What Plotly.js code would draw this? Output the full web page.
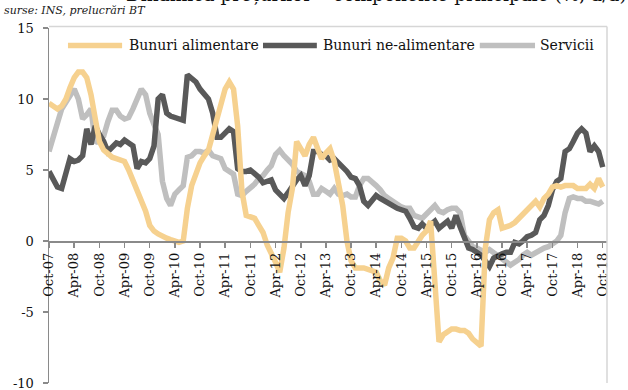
<!DOCTYPE html>
<html>
<head>
<meta charset="utf-8">
<script src="https://cdn.plot.ly/plotly-3.0.1.min.js"></script>
<style>html,body{margin:0;padding:0;background:#fff;}#chart{width:628px;height:390px;}</style>
</head>
<body>
<div id="chart"></div>
<script>
// monthly data, Oct-2007 .. Oct-2018
const startYear = 2007, startMonth = 10, nMonths = 133;
const months = [];
for (let k = 0; k < nMonths; k++) {
  const m = (startMonth - 1 + k) % 12 + 1;
  const y = startYear + Math.floor((startMonth - 1 + k) / 12);
  months.push(y + '-' + String(m).padStart(2, '0') + '-01');
}
const chartTitle = 'Dinamica prețurilor – componente principale (%, a/a)';
const sourceNote = 'surse: INS, prelucrări BT';
const seriesNames = ['Bunuri alimentare', 'Bunuri ne-alimentare', 'Servicii'];

const food = [
 9.7,9.5,9.3,9.5,10.0,10.8,11.5,11.9,11.9,11.5,10.3,8.6,
 7.0,6.4,6.1,5.9,5.8,5.7,5.6,5.0,4.3,3.5,3.0,2.1,
 1.1,0.7,0.5,0.4,0.2,0.1,0.0,-0.1,0.0,2.3,3.9,4.8,
 5.5,6.0,6.4,7.5,8.6,9.8,10.7,11.2,10.7,8.1,3.5,1.8,
 1.7,1.6,1.1,0.6,-0.3,-0.8,-1.5,-2.2,-0.5,2.0,3.7,7.0,
 6.5,6.0,6.8,7.3,6.5,5.8,6.2,6.5,5.6,4.2,2.5,0.0,
 -1.4,-1.9,-1.9,-1.9,-2.0,-2.1,-2.2,-2.8,-3.1,-1.9,-1.2,0.2,
 0.2,0.0,-0.5,-0.5,0.0,0.4,0.7,1.4,-2.9,-7.1,-6.6,-6.4,
 -6.2,-6.2,-6.3,-6.3,-6.5,-6.9,-7.2,-7.4,-0.5,1.5,2.0,2.2,
 0.9,1.0,1.1,1.3,1.6,1.9,2.2,2.5,2.8,2.4,3.0,3.3,
 3.8,3.9,3.8,3.9,3.9,3.9,3.7,3.7,3.7,4.0,3.7,4.4,3.8
];
const nonFood = [
 4.9,4.3,3.8,3.7,4.7,5.8,5.6,5.7,6.0,7.9,6.8,8.1,
 7.5,7.0,6.3,6.6,6.9,6.8,7.1,6.9,6.7,5.1,5.6,5.5,
 5.8,6.7,10.0,10.3,9.0,8.8,8.7,8.6,8.5,11.7,11.4,11.2,
 10.7,10.3,10.0,9.0,7.3,7.3,7.6,7.9,7.7,5.1,4.9,4.9,
 5.0,4.8,4.5,4.1,4.2,4.3,3.6,3.3,3.0,3.4,3.9,4.3,
 4.6,3.9,4.6,6.3,6.3,6.1,6.0,5.7,5.8,5.5,5.3,4.9,
 4.5,4.4,3.9,2.8,2.5,2.9,3.2,3.0,2.8,2.6,2.4,2.3,
 2.2,2.1,1.6,1.0,0.9,1.2,0.9,1.2,1.4,0.9,1.1,1.4,
 0.9,1.8,1.0,0.3,-0.5,-0.6,-0.8,-1.0,-1.4,-1.8,-1.2,-1.0,
 -0.9,-0.8,-0.8,-0.1,-0.2,0.0,0.3,0.4,0.6,1.5,1.8,2.5,
 3.6,4.2,4.4,6.3,6.5,7.0,7.6,7.9,7.6,6.3,6.7,6.3,5.2
];
const services = [
 6.3,7.2,8.3,9.3,9.8,10.3,10.7,10.0,8.6,8.9,9.3,6.9,
 7.2,7.4,8.4,9.2,9.2,8.8,8.6,8.7,9.3,10.0,10.7,10.3,
 9.0,8.2,7.5,4.2,3.0,2.5,3.3,3.6,3.9,5.9,6.0,6.3,
 6.3,6.2,6.4,6.0,5.9,5.8,5.1,4.9,4.7,3.3,3.2,3.5,
 3.7,4.0,4.4,4.6,5.0,5.3,6.1,6.4,6.0,5.7,5.4,4.9,
 4.8,4.6,4.2,3.3,3.3,3.7,3.5,3.3,3.7,3.3,3.2,3.3,
 3.1,3.1,3.9,4.4,4.4,4.2,3.9,3.6,3.2,3.0,2.8,2.5,
 2.4,2.3,2.3,1.8,1.7,1.6,1.9,2.2,2.5,2.1,2.0,2.2,
 2.3,2.3,2.0,0.4,-0.1,-0.4,-0.5,-0.6,-0.8,-0.6,-0.8,-1.0,
 -1.2,-1.5,-1.7,-1.5,-1.3,-1.0,-0.8,-1.0,-0.8,-0.6,-0.5,-0.4,
 -0.2,0.0,0.4,2.0,3.0,3.1,3.0,3.0,2.8,2.8,2.7,2.6,2.8
];
const yTickVals = [-10, -5, 0, 5, 10, 15];
const yTickText = ['-10', '-5', '0', '5', '10', '15'];

const colors = ['#F6D18F', '#595959', '#BFBFBF'];
const FONT = 'DejaVu Serif, Liberation Serif, serif';

const traces = [food, nonFood, services].map((arr, i) => ({
  type: 'scatter', mode: 'lines', x: months, y: arr, name: seriesNames[i],
  line: {color: colors[i], width: 5.5}, showlegend: false, hoverinfo: 'skip'
}));
const data = [traces[2], traces[1], traces[0]];

// custom legend (paper coords)
const legY = 0.951;
const legItems = [
  {x0: 0.034, x1: 0.131, tx: 0.139},
  {x0: 0.3835, x1: 0.480, tx: 0.488},
  {x0: 0.772, x1: 0.871, tx: 0.876}
];
const shapes = [
  {type: 'line', xref: 'paper', yref: 'paper', x0: 0, x1: 1, y0: 1.004, y1: 1.004, line: {color: '#D6D6D6', width: 1.5}},
  {type: 'line', xref: 'paper', yref: 'paper', x0: 1, x1: 1, y0: 0, y1: 1.004, line: {color: '#D6D6D6', width: 1.5}}
];
const annotations = [
  {xref: 'paper', yref: 'paper', x: 1.039, y: 1.0595, xanchor: 'right', yanchor: 'bottom', showarrow: false,
   text: chartTitle, font: {family: FONT, size: 18.5, color: '#111'}},
  {xref: 'paper', yref: 'paper', x: -0.085, y: 1.050, xanchor: 'left', yanchor: 'middle', showarrow: false,
   text: '<i>' + sourceNote + '</i>', font: {family: FONT, size: 11, color: '#1a1a1a'}}
];
legItems.forEach((it, i) => {
  shapes.push({type: 'line', xref: 'paper', yref: 'paper', x0: it.x0, x1: it.x1, y0: legY, y1: legY,
    line: {color: colors[i], width: 5.5}});
  annotations.push({xref: 'paper', yref: 'paper', x: it.tx, y: legY, xanchor: 'left', yanchor: 'middle',
    showarrow: false, text: seriesNames[i], font: {family: FONT, size: 14, color: '#111'}});
});

const layout = {
  width: 628, height: 390,
  margin: {l: 49, r: 21, t: 28, b: 7},
  paper_bgcolor: '#fff', plot_bgcolor: '#fff',
  font: {family: FONT, size: 13, color: '#111'},
  showlegend: false,
  xaxis: {
    type: 'date', range: ['2007-10-01', '2018-11-01'],
    tick0: '2007-10-01', dtick: 'M6', tickformat: '%b-%y', tickangle: -90,
    anchor: 'free', position: 0.4,
    showline: true, linecolor: '#8A8A8A', linewidth: 1.5,
    ticks: 'outside', ticklen: 5, tickcolor: '#8A8A8A', tickwidth: 1.5,
    showgrid: false, zeroline: false,
    tickfont: {family: FONT, size: 13, color: '#111'}
  },
  yaxis: {
    range: [-10, 15], tickvals: yTickVals, ticktext: yTickText,
    showline: true, linecolor: '#8A8A8A', linewidth: 1.5,
    ticks: 'outside', ticklen: 5, tickcolor: '#8A8A8A', tickwidth: 1.5,
    showgrid: false, zeroline: false, ticklabelstandoff: 6,
    ticklabeloverflow: 'allow',
    tickfont: {family: FONT, size: 13, color: '#111'}
  },
  shapes: shapes,
  annotations: annotations
};

Plotly.newPlot('chart', data, layout, {staticPlot: true, displayModeBar: false});
</script>
</body>
</html>
